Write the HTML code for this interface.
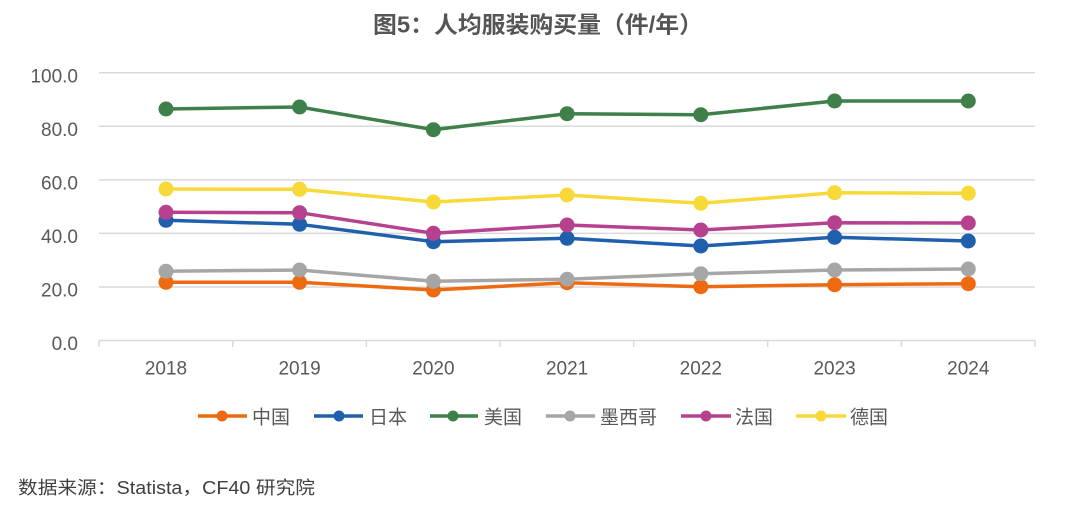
<!DOCTYPE html>
<html><head><meta charset="utf-8">
<style>
html,body{margin:0;padding:0;background:#fff;}
svg{display:block;}
text{font-family:"Liberation Sans","Noto Sans CJK SC",sans-serif;}
</style></head>
<body>
<svg width="1080" height="518" viewBox="0 0 1080 518" xmlns="http://www.w3.org/2000/svg">
<rect width="1080" height="518" fill="#fff"/>
<text x="373" y="32.5" font-size="23" font-weight="bold" fill="#555" textLength="330" lengthAdjust="spacingAndGlyphs">图5：人均服装购买量（件/年）</text>

<g stroke="#d9d9d9" stroke-width="1.5">
<line x1="99" y1="72.8" x2="1035" y2="72.8"/>
<line x1="99" y1="126.3" x2="1035" y2="126.3"/>
<line x1="99" y1="179.9" x2="1035" y2="179.9"/>
<line x1="99" y1="233.4" x2="1035" y2="233.4"/>
<line x1="99" y1="287" x2="1035" y2="287"/>
<line x1="99" y1="340.5" x2="1035" y2="340.5"/>
<line x1="99" y1="340.5" x2="99" y2="347"/>
<line x1="232.7" y1="340.5" x2="232.7" y2="347"/>
<line x1="366.4" y1="340.5" x2="366.4" y2="347"/>
<line x1="500.1" y1="340.5" x2="500.1" y2="347"/>
<line x1="633.8" y1="340.5" x2="633.8" y2="347"/>
<line x1="767.6" y1="340.5" x2="767.6" y2="347"/>
<line x1="901.3" y1="340.5" x2="901.3" y2="347"/>
<line x1="1035" y1="340.5" x2="1035" y2="347"/>
</g>

<g font-size="19" fill="#595959" text-anchor="end">
<text x="78" y="82.3">100.0</text>
<text x="78" y="135.8">80.0</text>
<text x="78" y="189.4">60.0</text>
<text x="78" y="242.9">40.0</text>
<text x="78" y="296.5">20.0</text>
<text x="78" y="350">0.0</text>
</g>
<g font-size="19" fill="#595959" text-anchor="middle">
<text x="166" y="374.3">2018</text>
<text x="299.6" y="374.3">2019</text>
<text x="433.4" y="374.3">2020</text>
<text x="567.1" y="374.3">2021</text>
<text x="700.8" y="374.3">2022</text>
<text x="834.6" y="374.3">2023</text>
<text x="968.3" y="374.3">2024</text>
</g>

<!-- China -->
<g stroke="#ee6a10" fill="#ee6a10">
<polyline fill="none" stroke-width="3.5" stroke-linejoin="round" points="166,282.3 299.6,282.3 433.4,290 567.1,282.7 700.8,286.7 834.6,284.7 968.3,283.7"/>
<g stroke="none"><circle cx="166" cy="282.3" r="7.5"/><circle cx="299.6" cy="282.3" r="7.5"/><circle cx="433.4" cy="290" r="7.5"/><circle cx="567.1" cy="282.7" r="7.5"/><circle cx="700.8" cy="286.7" r="7.5"/><circle cx="834.6" cy="284.7" r="7.5"/><circle cx="968.3" cy="283.7" r="7.5"/></g>
</g>
<!-- Japan -->
<g stroke="#1f5fab" fill="#1f5fab">
<polyline fill="none" stroke-width="3.5" stroke-linejoin="round" points="166,220.3 299.6,224.3 433.4,241.7 567.1,238.3 700.8,246 834.6,237.3 968.3,241"/>
<g stroke="none"><circle cx="166" cy="220.3" r="7.5"/><circle cx="299.6" cy="224.3" r="7.5"/><circle cx="433.4" cy="241.7" r="7.5"/><circle cx="567.1" cy="238.3" r="7.5"/><circle cx="700.8" cy="246" r="7.5"/><circle cx="834.6" cy="237.3" r="7.5"/><circle cx="968.3" cy="241" r="7.5"/></g>
</g>
<!-- USA -->
<g stroke="#3f7f4a" fill="#3f7f4a">
<polyline fill="none" stroke-width="3.5" stroke-linejoin="round" points="166,109 299.6,107 433.4,129.7 567.1,113.7 700.8,114.7 834.6,101 968.3,101"/>
<g stroke="none"><circle cx="166" cy="109" r="7.5"/><circle cx="299.6" cy="107" r="7.5"/><circle cx="433.4" cy="129.7" r="7.5"/><circle cx="567.1" cy="113.7" r="7.5"/><circle cx="700.8" cy="114.7" r="7.5"/><circle cx="834.6" cy="101" r="7.5"/><circle cx="968.3" cy="101" r="7.5"/></g>
</g>
<!-- Mexico -->
<g stroke="#a6a6a6" fill="#a6a6a6">
<polyline fill="none" stroke-width="3.5" stroke-linejoin="round" points="166,271.3 299.6,270 433.4,281.3 567.1,279.3 700.8,273.7 834.6,270 968.3,269"/>
<g stroke="none"><circle cx="166" cy="271.3" r="7.5"/><circle cx="299.6" cy="270" r="7.5"/><circle cx="433.4" cy="281.3" r="7.5"/><circle cx="567.1" cy="279.3" r="7.5"/><circle cx="700.8" cy="273.7" r="7.5"/><circle cx="834.6" cy="270" r="7.5"/><circle cx="968.3" cy="269" r="7.5"/></g>
</g>
<!-- France -->
<g stroke="#b6428f" fill="#b6428f">
<polyline fill="none" stroke-width="3.5" stroke-linejoin="round" points="166,212.3 299.6,212.7 433.4,233.3 567.1,225 700.8,230 834.6,222.7 968.3,223"/>
<g stroke="none"><circle cx="166" cy="212.3" r="7.5"/><circle cx="299.6" cy="212.7" r="7.5"/><circle cx="433.4" cy="233.3" r="7.5"/><circle cx="567.1" cy="225" r="7.5"/><circle cx="700.8" cy="230" r="7.5"/><circle cx="834.6" cy="222.7" r="7.5"/><circle cx="968.3" cy="223" r="7.5"/></g>
</g>
<!-- Germany -->
<g stroke="#f8d93a" fill="#f8d93a">
<polyline fill="none" stroke-width="3.5" stroke-linejoin="round" points="166,189 299.6,189.3 433.4,202 567.1,195 700.8,203.3 834.6,192.7 968.3,193.3"/>
<g stroke="none"><circle cx="166" cy="189" r="7.5"/><circle cx="299.6" cy="189.3" r="7.5"/><circle cx="433.4" cy="202" r="7.5"/><circle cx="567.1" cy="195" r="7.5"/><circle cx="700.8" cy="203.3" r="7.5"/><circle cx="834.6" cy="192.7" r="7.5"/><circle cx="968.3" cy="193.3" r="7.5"/></g>
</g>

<!-- Legend -->
<g stroke-width="3.5">
<line x1="198" y1="416" x2="247" y2="416" stroke="#ee6a10"/><circle cx="222" cy="416" r="5.5" fill="#ee6a10"/>
<line x1="314" y1="416" x2="363" y2="416" stroke="#1f5fab"/><circle cx="339" cy="416" r="5.5" fill="#1f5fab"/>
<line x1="430" y1="416" x2="478" y2="416" stroke="#3f7f4a"/><circle cx="453" cy="416" r="5.5" fill="#3f7f4a"/>
<line x1="546" y1="416" x2="595" y2="416" stroke="#a6a6a6"/><circle cx="570" cy="416" r="5.5" fill="#a6a6a6"/>
<line x1="681" y1="416" x2="731" y2="416" stroke="#b6428f"/><circle cx="706" cy="416" r="5.5" fill="#b6428f"/>
<line x1="796" y1="416" x2="846" y2="416" stroke="#f8d93a"/><circle cx="821" cy="416" r="5.5" fill="#f8d93a"/>
</g>
<g font-size="19" fill="#595959">
<text x="252" y="423.5">中国</text>
<text x="369" y="423.5">日本</text>
<text x="484" y="423.5">美国</text>
<text x="600" y="423.5">墨西哥</text>
<text x="735" y="423.5">法国</text>
<text x="850" y="423.5">德国</text>
</g>

<text x="18" y="494" font-size="18" fill="#404040" textLength="297" lengthAdjust="spacingAndGlyphs">数据来源：Statista，CF40 研究院</text>
</svg>
</body></html>
